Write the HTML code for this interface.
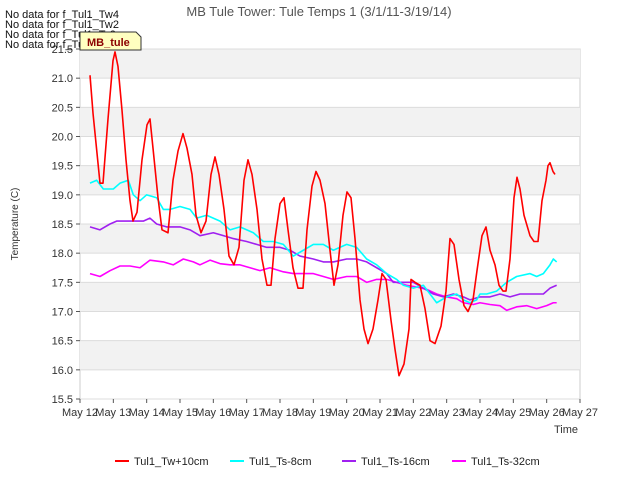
<!DOCTYPE html>
<html><head><meta charset="utf-8"><style>
body{margin:0;background:#fff;font-family:"Liberation Sans",sans-serif;}
svg text{font-family:"Liberation Sans",sans-serif;}
</style></head><body>
<svg id="c" width="640" height="480" xmlns="http://www.w3.org/2000/svg"></svg>
<script>
const xTickLabels=["May 12","May 13","May 14","May 15","May 16","May 17","May 18","May 19","May 20","May 21","May 22","May 23","May 24","May 25","May 26","May 27"];
const yTicks=[15.5,16.0,16.5,17.0,17.5,18.0,18.5,19.0,19.5,20.0,20.5,21.0,21.5];
const seriesNames=["Tul1_Tw+10cm","Tul1_Ts-8cm","Tul1_Ts-16cm","Tul1_Ts-32cm"];
const seriesColors=["#ff0000","#00ffff","#a020f0","#ff00ff"];
const twT=[0.3,0.39,0.6,0.69,0.84,0.99,1.05,1.14,1.26,1.38,1.5,1.59,1.71,1.86,2.01,2.1,2.19,2.34,2.46,2.64,2.79,2.94,3.09,3.21,3.36,3.48,3.63,3.78,3.93,4.05,4.17,4.32,4.47,4.62,4.77,4.92,5.04,5.16,5.31,5.46,5.61,5.73,5.85,6.0,6.12,6.24,6.39,6.54,6.69,6.81,6.96,7.08,7.2,7.35,7.5,7.62,7.74,7.89,8.01,8.13,8.25,8.4,8.52,8.64,8.79,8.94,9.06,9.18,9.33,9.45,9.57,9.72,9.87,9.93,10.05,10.2,10.35,10.5,10.65,10.83,10.98,11.1,11.22,11.37,11.52,11.64,11.79,11.91,12.06,12.18,12.3,12.45,12.57,12.69,12.78,12.9,13.02,13.11,13.2,13.32,13.5,13.62,13.74,13.86,13.98,14.04,14.1,14.19,14.25];
const twV=[21.05,20.4,19.2,19.2,20.3,21.3,21.45,21.2,20.45,19.6,18.9,18.55,18.7,19.6,20.2,20.3,19.8,18.95,18.4,18.35,19.25,19.75,20.05,19.8,19.35,18.65,18.35,18.55,19.35,19.65,19.35,18.75,17.95,17.8,18.1,19.25,19.6,19.35,18.75,17.9,17.45,17.45,18.25,18.85,18.95,18.4,17.75,17.4,17.4,18.4,19.15,19.4,19.25,18.85,18.05,17.45,17.8,18.65,19.05,18.95,18.25,17.2,16.7,16.45,16.7,17.2,17.65,17.55,16.85,16.35,15.9,16.1,16.7,17.55,17.5,17.45,17.05,16.5,16.45,16.75,17.35,18.25,18.15,17.55,17.1,17.0,17.2,17.7,18.3,18.45,18.05,17.8,17.45,17.35,17.35,17.9,18.95,19.3,19.1,18.65,18.3,18.2,18.2,18.9,19.25,19.5,19.55,19.4,19.35];
const s8T=[0.3,0.5,0.7,1.0,1.2,1.45,1.6,1.8,2.0,2.3,2.5,2.7,3.0,3.3,3.5,3.8,4.2,4.5,4.8,5.2,5.5,5.8,6.1,6.4,6.7,7.0,7.3,7.6,8.0,8.3,8.6,8.9,9.2,9.5,9.7,10.0,10.3,10.5,10.7,11.0,11.3,11.5,11.7,11.9,12.0,12.2,12.5,12.8,13.1,13.5,13.7,13.9,14.1,14.2,14.3];
const s8V=[19.2,19.25,19.1,19.1,19.2,19.25,19.0,18.9,19.0,18.95,18.75,18.75,18.8,18.75,18.6,18.65,18.55,18.4,18.45,18.35,18.2,18.2,18.15,17.95,18.05,18.15,18.15,18.05,18.15,18.1,17.9,17.8,17.65,17.55,17.45,17.4,17.45,17.3,17.15,17.25,17.3,17.2,17.15,17.2,17.3,17.3,17.35,17.5,17.6,17.65,17.6,17.65,17.8,17.9,17.85];
const s16T=[0.3,0.6,0.9,1.1,1.5,1.9,2.1,2.3,2.6,3.0,3.3,3.6,4.0,4.3,4.6,5.0,5.3,5.6,6.0,6.3,6.6,7.0,7.3,7.6,8.0,8.3,8.6,8.9,9.2,9.4,9.7,10.0,10.3,10.6,10.9,11.2,11.5,11.7,12.0,12.3,12.6,12.9,13.2,13.6,13.9,14.1,14.3];
const s16V=[18.45,18.4,18.5,18.55,18.55,18.55,18.6,18.5,18.45,18.45,18.4,18.3,18.35,18.3,18.25,18.2,18.15,18.1,18.1,18.05,17.95,17.9,17.85,17.85,17.9,17.9,17.85,17.75,17.65,17.5,17.5,17.5,17.4,17.3,17.25,17.3,17.25,17.2,17.25,17.25,17.3,17.25,17.3,17.3,17.3,17.4,17.45];
const s32T=[0.3,0.6,0.9,1.2,1.5,1.8,2.1,2.5,2.8,3.1,3.4,3.6,3.9,4.2,4.5,4.8,5.1,5.4,5.7,6.1,6.4,6.7,7.0,7.3,7.6,8.0,8.3,8.6,8.9,9.2,9.5,9.8,10.1,10.4,10.7,11.0,11.3,11.5,11.8,12.0,12.3,12.6,12.8,13.1,13.4,13.7,14.0,14.2,14.3];
const s32V=[17.65,17.6,17.7,17.78,17.78,17.75,17.88,17.85,17.8,17.9,17.85,17.8,17.88,17.82,17.8,17.8,17.75,17.7,17.75,17.68,17.65,17.65,17.65,17.6,17.55,17.6,17.6,17.5,17.55,17.55,17.5,17.45,17.42,17.38,17.3,17.25,17.22,17.15,17.12,17.15,17.12,17.1,17.02,17.08,17.1,17.05,17.1,17.15,17.15];

const L=80,R=580,T=49,B=399,yMin=15.5,yMax=21.5,xMax=15;
const xs=d=>L+(R-L)*d/xMax;
const ys=v=>B-(B-T)*(v-yMin)/(yMax-yMin);
const NS="http://www.w3.org/2000/svg";
const svg=document.getElementById('c');
function mk(tag,attrs,parent){const e=document.createElementNS(NS,tag);for(const k in attrs)e.setAttribute(k,attrs[k]);(parent||svg).appendChild(e);return e;}

const bg=mk('rect',{x:L,y:T,width:R-L,height:B-T,fill:'#fff',stroke:'#ccc'});


for(let i=0;i<yTicks.length-1;i++){
  const lo=yTicks[i],hi=yTicks[i+1];
  if(Math.round(lo*2)%2===0){
    const b=mk('rect',{x:L,y:ys(hi),width:R-L,height:ys(lo)-ys(hi),fill:'#f2f2f2'});
    
    
  }
}
yTicks.forEach(v=>{
  const g=mk('line',{x1:L,x2:R,y1:ys(v),y2:ys(v),stroke:'#dcdcdc','stroke-width':1});
  
  
  mk('line',{x1:L-4,x2:L,y1:ys(v),y2:ys(v),stroke:'#555'});
  const t=mk('text',{x:L-7,y:ys(v)+4,'text-anchor':'end','font-size':11,fill:'#333'});
  t.textContent=v.toFixed(1);
  
  
});
xTickLabels.forEach((lab,i)=>{
  mk('line',{x1:xs(i),x2:xs(i),y1:B,y2:B+4,stroke:'#555'});
  const t=mk('text',{x:xs(i),y:B+17,'text-anchor':'middle','font-size':11,fill:'#333'});
  t.textContent=lab;
  
  
});
const data=[[twT,twV],[s8T,s8V],[s16T,s16V],[s32T,s32V]];
[3,2,1,0].forEach(i=>{
  const [tt,vv]=data[i];
  const p=mk('polyline',{points:tt.map((d,j)=>xs(d)+','+ys(vv[j])).join(' '),fill:'none',stroke:seriesColors[i],'stroke-width':1.6,'stroke-linejoin':'round'});
  
  
});
// legend
const lx=[115,230,342,452];
seriesNames.forEach((n,i)=>{
  const l=mk('line',{x1:lx[i],x2:lx[i]+14,y1:461,y2:461,stroke:seriesColors[i],'stroke-width':2});
  
  
  const t=mk('text',{x:lx[i]+19,y:465,'font-size':11,fill:'#222'});
  t.textContent=n;
  
  
});
</script>
<svg style="position:absolute;left:0;top:0" width="640" height="480" xmlns="http://www.w3.org/2000/svg">
<text x="319" y="16" text-anchor="middle" font-size="13" fill="#555">MB Tule Tower: Tule Temps 1 (3/1/11-3/19/14)</text>
<text x="18" y="224" text-anchor="middle" font-size="10" fill="#333" transform="rotate(-90 18 224)">Temperature (C)</text>
<text x="578" y="433" text-anchor="end" font-size="11" fill="#333">Time</text>
<g font-size="11" fill="#111">
<text x="5" y="18">No data for f_Tul1_Tw4</text>
<text x="5" y="28">No data for f_Tul1_Tw2</text>
<text x="5" y="38">No data for f_Tul1_Ts2</text>
<text x="5" y="48">No data for f_Tul1_Ts4</text>
</g>
<g>
<path d="M80,32 H136 L141,37 V50 H80 Z" fill="#ffffc0" stroke="#333" stroke-width="1"/>
<text x="87" y="46" font-size="11" font-weight="bold" fill="#8b0000">MB_tule</text>
</g>
</svg>
</body></html>
